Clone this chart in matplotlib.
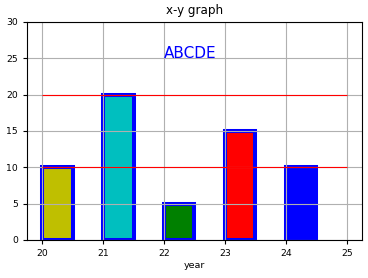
import matplotlib
matplotlib.use("Agg")
import matplotlib.pyplot as plt

years = [20, 21, 22, 23, 24]
values = [10, 20, 5, 15, 10]
bar_colors = ['y', 'c', 'g', 'r', 'b']
hline_levels = [10, 20]
hline_start, hline_end = 20, 25
label_text = "ABCDE"
label_pos = (22, 25)

fig = plt.figure(figsize=(3.68, 2.78), dpi=100)
ax = fig.add_axes([0.073, 0.137, 0.911, 0.784])

ax.bar(years, values, width=0.5, align='edge', color=bar_colors,
       edgecolor='b', linewidth=2.9)
ax.hlines(hline_levels, hline_start, hline_end, colors='r', linewidth=0.8)
ax.text(label_pos[0], label_pos[1], label_text, color='b', fontsize=11)
ax.set_ylim(0, 30)
ax.set_xticks([20, 21, 22, 23, 24, 25])
ax.set_yticks([0, 5, 10, 15, 20, 25, 30])
ax.grid(True, color='#b0b0b0', linewidth=0.8)
ax.tick_params(labelsize=6.7, length=3, width=0.8)
ax.set_title("x-y graph", fontsize=8.6)
ax.set_xlabel("year", fontsize=6.8, labelpad=2)
for s in ax.spines.values():
    s.set_linewidth(0.8)

fig.savefig("out.png", dpi=100)
